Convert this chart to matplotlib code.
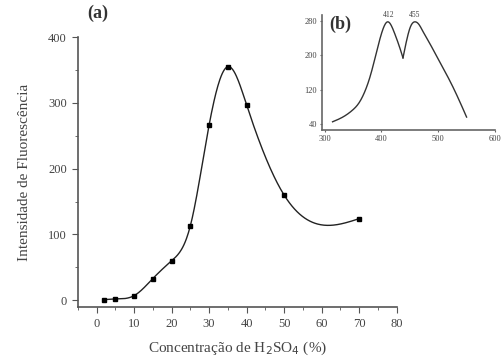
import numpy as np
import matplotlib
matplotlib.use("Agg")
import matplotlib.pyplot as plt
from matplotlib.ticker import MultipleLocator

# main panel (a): fluorescence vs H2SO4 concentration
conc = [2, 5, 10, 15, 20, 25, 30, 35, 40, 50, 70]
intensity = [1, 2, 7, 33, 60, 113, 266, 355, 297, 160, 124]

# inset (b): emission spectrum (two branches meeting at the dip)
wl_left = [314, 332, 349, 360, 370, 380, 390, 400, 411, 423, 432, 438]
spec_left = [45, 56, 72, 88, 113, 150, 200, 250, 278, 252, 219, 194]
wl_right = [438, 445, 451, 459, 466, 473, 485, 498, 512, 526, 538, 550]
spec_right = [194, 238, 266, 278, 272, 256, 228, 196, 162, 126, 92, 56]
peak_labels = ["412", "455"]
peak_pos = [412, 459]

plt.rcParams['font.family'] = ['Liberation Serif', 'DejaVu Serif']
txt = '#444444'


def natural_spline(x, y, n=400):
    x = np.asarray(x, float)
    y = np.asarray(y, float)
    k = len(x)
    h = np.diff(x)
    A = np.zeros((k, k))
    b = np.zeros(k)
    A[0, 0] = A[-1, -1] = 1
    for i in range(1, k - 1):
        A[i, i - 1] = h[i - 1]
        A[i, i] = 2 * (h[i - 1] + h[i])
        A[i, i + 1] = h[i]
        b[i] = 6 * ((y[i + 1] - y[i]) / h[i] - (y[i] - y[i - 1]) / h[i - 1])
    m = np.linalg.solve(A, b)
    xs = np.linspace(x[0], x[-1], n)
    idx = np.clip(np.searchsorted(x, xs) - 1, 0, k - 2)
    t = xs - x[idx]
    hi = h[idx]
    a = (m[idx + 1] - m[idx]) / (6 * hi)
    c2 = m[idx] / 2
    c1 = (y[idx + 1] - y[idx]) / hi - hi * (2 * m[idx] + m[idx + 1]) / 6
    ys = y[idx] + c1 * t + c2 * t ** 2 + a * t ** 3
    return xs, ys


fig = plt.figure(figsize=(5.02, 3.56), dpi=100)
ax = fig.add_axes([0.155, 0.138, 0.635, 0.758])

xs, ys = natural_spline(conc, intensity)
ax.plot(xs, ys, color='#222222', lw=1.0)
ax.plot(conc, intensity, 's', color='black', ms=3.5)

ax.set_xlim(-5, 80)
ax.set_ylim(-10, 400)
ax.xaxis.set_major_locator(MultipleLocator(10))
ax.xaxis.set_minor_locator(MultipleLocator(5))
ax.yaxis.set_major_locator(MultipleLocator(100))
ax.yaxis.set_minor_locator(MultipleLocator(50))
for s in ['top', 'right']:
    ax.spines[s].set_visible(False)
for s in ['left', 'bottom']:
    ax.spines[s].set_color('#555555')
    ax.spines[s].set_linewidth(1.2)
ax.tick_params(which='both', direction='out', colors='#555555', labelcolor=txt, labelsize=9)
ax.tick_params(which='major', length=4, pad=4)
ax.tick_params(which='minor', length=2)
ax.set_xlabel('Concentração de H$_2$SO$_4$ (%)', fontsize=11, color=txt, labelpad=7)
ax.set_ylabel('Intensidade de Fluorescência', fontsize=11, color=txt, labelpad=12)
ax.text(0.03, 1.055, '(a)', transform=ax.transAxes, fontsize=13, fontweight='bold',
        color='#333333', va='bottom')

ins = fig.add_axes([0.641, 0.635, 0.345, 0.323])
for wx, sy in [(wl_left, spec_left), (wl_right, spec_right)]:
    sx, sv = natural_spline(wx, sy, 200)
    ins.plot(sx, sv, color='#333333', lw=1.0)
ins.set_xlim(295, 600)
ins.set_ylim(26, 294)
ins.set_xticks([300, 400, 500, 600])
ins.set_yticks([40, 120, 200, 280])
for s in ['top', 'right']:
    ins.spines[s].set_visible(False)
for s in ['left', 'bottom']:
    ins.spines[s].set_color('#666666')
    ins.spines[s].set_linewidth(1.2)
ins.tick_params(direction='out', length=1.5, colors='#666666', labelcolor=txt, labelsize=6, pad=2)
for lab, p in zip(peak_labels, peak_pos):
    ins.text(p, 285, lab, fontsize=5.5, color=txt, ha='center', va='bottom')
ins.text(0.046, 0.84, '(b)', transform=ins.transAxes, fontsize=13, fontweight='bold',
         color='#333333', va='bottom')

fig.savefig('out.png', dpi=100)
